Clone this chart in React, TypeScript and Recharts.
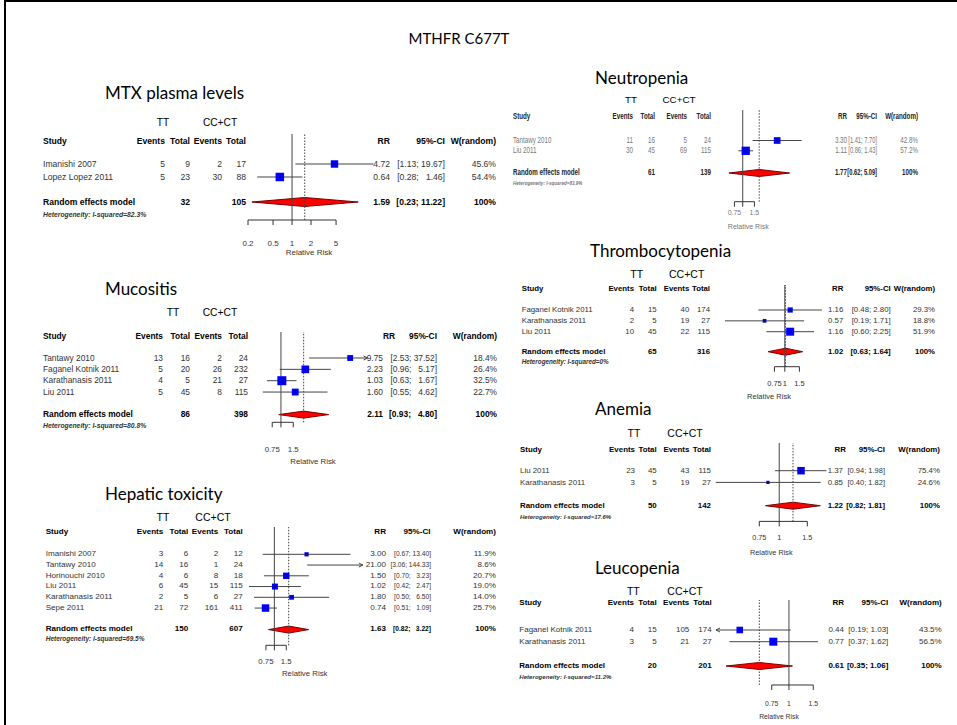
import React from 'react';
import { ComposedChart, XAxis, YAxis, ReferenceLine, Scatter, Area } from 'recharts';

const FONT = '"Liberation Sans", Arial, Helvetica, sans-serif';
const TITLE_FONT = 'Lato, "Open Sans", sans-serif';

// MTX plasma levels
const mtxStudies = ['Imanishi 2007', 'Lopez Lopez 2011'];
const mtxCounts = [[5, 9, 2, 17], [5, 23, 30, 88]];
const mtxRR = [4.72, 0.64];
const mtxCI = [[1.13, 19.67], [0.28, 1.46]];
const mtxWeight = [45.6, 54.4];
const mtxPooled = [1.59, 0.23, 11.22];
const mtxTotals = [32, 105];
const mtxI2 = '82.3%';
const mtxTicks = [0.2, 0.5, 1, 2, 5];
const mtxTickLabels = ['0.2', '0.5', '1', '2', '5'];

// Mucositis
const mucStudies = ['Tantawy 2010', 'Faganel Kotnik 2011', 'Karathanasis 2011', 'Liu 2011'];
const mucCounts = [[13, 16, 2, 24], [5, 20, 26, 232], [4, 5, 21, 27], [5, 45, 8, 115]];
const mucRR = [9.75, 2.23, 1.03, 1.6];
const mucCI = [[2.53, 37.52], [0.96, 5.17], [0.63, 1.67], [0.55, 4.62]];
const mucWeight = [18.4, 26.4, 32.5, 22.7];
const mucPooled = [2.11, 0.93, 4.8];
const mucTotals = [86, 398];
const mucI2 = '80.8%';
const mucTicks = [0.75, 1, 1.5];
const mucTickLabels = ['0.75', '', '1.5'];

// Hepatic toxicity
const hepStudies = ['Imanishi 2007', 'Tantawy 2010', 'Horinouchi 2010', 'Liu 2011', 'Karathanasis 2011', 'Sepe 2011'];
const hepCounts = [[3, 6, 2, 12], [14, 16, 1, 24], [4, 6, 8, 18], [6, 45, 15, 115], [2, 5, 6, 27], [21, 72, 161, 411]];
const hepRR = [3.0, 21.0, 1.5, 1.02, 1.8, 0.74];
const hepCI = [[0.67, 13.4], [3.06, 144.33], [0.7, 3.23], [0.42, 2.47], [0.5, 6.5], [0.51, 1.09]];
const hepWeight = [11.9, 8.6, 20.7, 19.0, 14.0, 25.7];
const hepPooled = [1.63, 0.82, 3.22];
const hepTotals = [150, 607];
const hepI2 = '69.5%';
const hepTicks = [0.75, 1, 1.5];
const hepTickLabels = ['0.75', '', '1.5'];

// Neutropenia
const neuStudies = ['Tantawy 2010', 'Liu 2011'];
const neuCounts = [[11, 16, 5, 24], [30, 45, 69, 115]];
const neuRR = [3.3, 1.11];
const neuCI = [[1.41, 7.7], [0.86, 1.43]];
const neuWeight = [42.8, 57.2];
const neuPooled = [1.77, 0.62, 5.09];
const neuTotals = [61, 139];
const neuI2 = '83.9%';
const neuTicks = [0.75, 1, 1.5];
const neuTickLabels = ['0.75', '', '1.5'];

// Thrombocytopenia
const thrStudies = ['Faganel Kotnik 2011', 'Karathanasis 2011', 'Liu 2011'];
const thrCounts = [[4, 15, 40, 174], [2, 5, 19, 27], [10, 45, 22, 115]];
const thrRR = [1.16, 0.57, 1.16];
const thrCI = [[0.48, 2.8], [0.19, 1.71], [0.6, 2.25]];
const thrWeight = [29.3, 18.8, 51.9];
const thrPooled = [1.02, 0.63, 1.64];
const thrTotals = [65, 316];
const thrI2 = '0%';
const thrTicks = [0.75, 1, 1.5];
const thrTickLabels = ['0.75', '1', '1.5'];

// Anemia
const aneStudies = ['Liu 2011', 'Karathanasis 2011'];
const aneCounts = [[23, 45, 43, 115], [3, 5, 19, 27]];
const aneRR = [1.37, 0.85];
const aneCI = [[0.94, 1.98], [0.4, 1.82]];
const aneWeight = [75.4, 24.6];
const anePooled = [1.22, 0.82, 1.81];
const aneTotals = [50, 142];
const aneI2 = '17.6%';
const aneTicks = [0.75, 1, 1.5];
const aneTickLabels = ['0.75', '1', '1.5'];

// Leucopenia
const leuStudies = ['Faganel Kotnik 2011', 'Karathanasis 2011'];
const leuCounts = [[4, 15, 105, 174], [3, 5, 21, 27]];
const leuRR = [0.44, 0.77];
const leuCI = [[0.19, 1.03], [0.37, 1.62]];
const leuWeight = [43.5, 56.5];
const leuPooled = [0.61, 0.35, 1.06];
const leuTotals = [20, 201];
const leuI2 = '11.2%';
const leuTicks = [0.75, 1, 1.5];
const leuTickLabels = ['0.75', '1', '1.5'];

type Lay = {
  title: string; titleX: number; titleY: number;
  ttY: number; ttX: number; ccX: number;
  headY: number; studyX: number; cols: number[];
  row0Y: number; rowH: number; randY: number; hetY: number;
  rrR: number; rrHeadR?: number; ciR: number; wR: number;
  one: number; k: number; dmin: number; dmax: number;
  vTop: number; axisY: number; tickY: number; xlabX: number; xlabY: number;
  sq: number; dh: number; color?: string; headColor?: string;
  fs: number; hfs: number; afs: number; tfs: number; sx?: number; ciSx?: number;
};

type PData = {
  studies: string[]; counts: number[][]; rr: number[]; ci: number[][]; weight: number[];
  pooled: number[]; totals: number[]; i2: string; ticks: number[]; tickLabels: string[];
};

function T({ x, y, children, a = 'start', b = false, i = false, s = 9, c = '#333', f = FONT, sx = 1 }: any) {
  const tx = a === 'end' ? '-100%' : a === 'middle' ? '-50%' : '0';
  const origin = a === 'end' ? '100% 50%' : a === 'middle' ? '50% 50%' : '0 50%';
  return (
    <span
      style={{
        position: 'absolute', left: x, top: y,
        transform: `translate(${tx}, -50%)${sx !== 1 ? ` scaleX(${sx})` : ''}`, transformOrigin: origin,
        fontFamily: f, fontSize: s, fontWeight: b ? 'bold' : 'normal', fontStyle: i ? 'italic' : 'normal',
        color: c, whiteSpace: 'pre', lineHeight: 1,
      }}
    >
      {children}
    </span>
  );
}

function CiLine(p: any) {
  const { x1, y1, x2, y2, arrowL, arrowR } = p;
  const l = Math.min(x1, x2), r = Math.max(x1, x2);
  const a = 4;
  return (
    <g>
      <line x1={l} y1={y1} x2={r} y2={y2} stroke="#444" strokeWidth={1} />
      {arrowR && <path d={`M${r - a},${y2 - a / 2} L${r},${y2} L${r - a},${y2 + a / 2}`} fill="none" stroke="#444" />}
      {arrowL && <path d={`M${l + a},${y1 - a / 2} L${l},${y1} L${l + a},${y1 + a / 2}`} fill="none" stroke="#444" />}
    </g>
  );
}

function Sq(p: any) {
  const { cx, cy, side } = p;
  return (
    <g>
      <rect x={cx - side / 2} y={cy - side / 2} width={side} height={side} fill="#0000ff" />
      <rect x={cx - 0.75} y={cy - 0.75} width={1.5} height={1.5} fill="#111" />
    </g>
  );
}

const fmtCI = (lo: number, hi: number, w: number) => {
  const h = hi.toFixed(2);
  const pad = Math.max(0, w - h.length);
  return `[${lo.toFixed(2)}; ${'  '.repeat(pad)}${h}]`;
};

function Panel({ L, d }: { L: Lay; d: PData }) {
  const col = L.color ?? '#333';
  const head = L.headColor ?? '#000';
  const sx = L.sx ?? 1;
  const ciSx = L.ciSx ?? sx;
  const M = 14;
  const px = (v: number) => L.one + L.k * Math.log10(v);
  const x0 = px(L.dmin), x1 = px(L.dmax);
  const plotH = L.axisY - L.vTop;
  const axisH = 45;
  const tickSize = 5;
  const tickMargin = L.tickY - L.axisY - tickSize - 0.36 * L.afs;
  const rowY = (i: number) => L.row0Y - L.vTop + i * L.rowH;
  const yR = L.randY - L.vTop;
  const clampX = (v: number) => Math.min(Math.max(v, L.dmin), L.dmax);
  const maxW = Math.max(...d.weight);
  const points = d.rr
    .map((v, i) => ({ x: v, y: rowY(i), w: d.weight[i] }))
    .filter((p) => p.x >= L.dmin && p.x <= L.dmax);
  const diamond = [
    { x: d.pooled[1], band: [yR, yR] },
    { x: d.pooled[0], band: [yR - L.dh, yR + L.dh] },
    { x: d.pooled[2], band: [yR, yR] },
  ];
  const hiW = Math.min(5, Math.max(...d.ci.map((c) => c[1].toFixed(2).length)));
  const s = L.fs;

  return (
    <>
      <T x={L.titleX} y={L.titleY} s={17} c="#000" f={TITLE_FONT}>{L.title}</T>
      <T x={L.ttX} y={L.ttY} a="middle" s={L.tfs} c="#000">TT</T>
      <T x={L.ccX} y={L.ttY} a="middle" s={L.tfs} c="#000">CC+CT</T>
      <T x={L.studyX} y={L.headY} b s={s} sx={sx} c={head}>Study</T>
      {['Events', 'Total', 'Events', 'Total'].map((h, j) => (
        <T key={j} x={L.cols[j]} y={L.headY} a="end" b s={s} sx={sx} c={head}>{h}</T>
      ))}
      <T x={L.rrHeadR ?? L.rrR} y={L.headY} a="end" b s={s} sx={sx} c={head}>RR</T>
      <T x={L.ciR} y={L.headY} a="end" b s={s} sx={sx} c={head}>95%-CI</T>
      <T x={L.wR} y={L.headY} a="end" b s={s} sx={sx} c={head}>W(random)</T>
      {d.studies.map((name, i) => {
        const y = L.row0Y + i * L.rowH;
        return (
          <React.Fragment key={name}>
            <T x={L.studyX} y={y} s={s} sx={sx} c={col}>{name}</T>
            {d.counts[i].map((n, j) => (
              <T key={j} x={L.cols[j]} y={y} a="end" s={s} sx={sx} c={col}>{n}</T>
            ))}
            <T x={L.rrR} y={y} a="end" s={s} sx={sx} c={col}>{d.rr[i].toFixed(2)}</T>
            <T x={L.ciR} y={y} a="end" s={s} sx={ciSx} c={col}>{fmtCI(d.ci[i][0], d.ci[i][1], hiW)}</T>
            <T x={L.wR} y={y} a="end" s={s} sx={sx} c={col}>{d.weight[i].toFixed(1) + '%'}</T>
          </React.Fragment>
        );
      })}
      <T x={L.studyX} y={L.randY} b s={s} sx={sx} c={head}>Random effects model</T>
      <T x={L.cols[1]} y={L.randY} a="end" b s={s} sx={sx} c={head}>{d.totals[0]}</T>
      <T x={L.cols[3]} y={L.randY} a="end" b s={s} sx={sx} c={head}>{d.totals[1]}</T>
      <T x={L.rrR} y={L.randY} a="end" b s={s} sx={sx} c={head}>{d.pooled[0].toFixed(2)}</T>
      <T x={L.ciR} y={L.randY} a="end" b s={s} sx={ciSx} c={head}>{fmtCI(d.pooled[1], d.pooled[2], hiW)}</T>
      <T x={L.wR} y={L.randY} a="end" b s={s} sx={sx} c={head}>100%</T>
      <T x={L.studyX} y={L.hetY} b i s={L.hfs} sx={sx} c={col}>{'Heterogeneity: I-squared=' + d.i2}</T>
      <T x={L.xlabX} y={L.xlabY} a="middle" s={L.afs} c={col}>Relative Risk</T>

      <div style={{ position: 'absolute', left: x0 - M, top: L.vTop }}>
        <ComposedChart width={x1 - x0 + 2 * M} height={plotH + axisH} margin={{ top: 0, right: M, bottom: 0, left: M }}>
          <XAxis
            type="number"
            dataKey="x"
            scale="log"
            domain={[L.dmin, L.dmax]}
            allowDataOverflow
            ticks={d.ticks}
            interval={0}
            tickFormatter={(v: number) => d.tickLabels[d.ticks.indexOf(v)] ?? ''}
            height={axisH}
            axisLine={false}
            tickLine={{ stroke: '#333' }}
            tickSize={tickSize}
            tickMargin={tickMargin}
            tick={{ fontSize: L.afs, fill: col, fontFamily: FONT }}
          />
          <YAxis type="number" dataKey="y" domain={[0, plotH]} reversed hide allowDataOverflow />
          <ReferenceLine x={1} stroke="#444" ifOverflow="visible" />
          <ReferenceLine x={d.pooled[0]} stroke="#444" strokeDasharray="1.5 1.5" ifOverflow="visible" />
          <ReferenceLine
            segment={[{ x: d.ticks[0], y: plotH }, { x: d.ticks[d.ticks.length - 1], y: plotH }]}
            stroke="#333"
            ifOverflow="visible"
          />
          {d.ci.map(([lo, hi], i) => (
            <ReferenceLine
              key={i}
              segment={[{ x: clampX(lo), y: rowY(i) }, { x: clampX(hi), y: rowY(i) }]}
              ifOverflow="visible"
              shape={(p: any) => <CiLine {...p} arrowL={lo < L.dmin} arrowR={hi > L.dmax} />}
            />
          ))}
          <Area
            data={diamond}
            dataKey="band"
            type="linear"
            fill="#ff0000"
            fillOpacity={1}
            stroke="#7a0000"
            strokeWidth={1}
            isAnimationActive={false}
            dot={false}
            activeDot={false}
          />
          <Scatter
            data={points}
            isAnimationActive={false}
            shape={(p: any) => <Sq {...p} side={L.sq * Math.pow(p.payload.w / maxW, 0.75)} />}
          />
        </ComposedChart>
      </div>
    </>
  );
}

const mtxLay: Lay = { title: 'MTX plasma levels', titleX: 105, titleY: 92, ttY: 123, ttX: 163, ccX: 220, headY: 141, studyX: 43, cols: [165, 190, 222, 246], row0Y: 164, rowH: 13, randY: 202, hetY: 215, rrR: 390, ciR: 445, wR: 496, one: 292, k: 63, dmin: 0.2, dmax: 20, vTop: 134, axisY: 220, tickY: 243, xlabX: 309, xlabY: 253, sq: 8.5, dh: 4.5, fs: 8.6, hfs: 6.8, afs: 8, tfs: 10.2 };
const mucLay: Lay = { title: 'Mucositis', titleX: 105, titleY: 288, ttY: 313, ttX: 173, ccX: 220, headY: 336, studyX: 43, cols: [163, 190, 222, 248], row0Y: 357.7, rowH: 11.35, randY: 414.3, hetY: 425.7, rrR: 383, rrHeadR: 395, ciR: 437, wR: 497, one: 281, k: 70, dmin: 0.47, dmax: 17.3, vTop: 331.7, axisY: 422, tickY: 449, xlabX: 313, xlabY: 461.7, sq: 9, dh: 3.5, fs: 8.4, hfs: 6.8, afs: 7.8, tfs: 10.3 };
const hepLay: Lay = { title: 'Hepatic toxicity', titleX: 105, titleY: 493, ttY: 517, ttX: 163, ccX: 213, headY: 532.3, studyX: 45.7, cols: [163.3, 188.3, 218.3, 242.7], row0Y: 554, rowH: 10.75, randY: 629.3, hetY: 639, rrR: 386, ciR: 430.5, wR: 496, one: 274.1, k: 67.5, dmin: 0.38, dmax: 20.5, vTop: 526.7, axisY: 645, tickY: 661, xlabX: 304.7, xlabY: 674.3, sq: 7.5, dh: 3.5, fs: 8.1, hfs: 6.5, afs: 7.8, tfs: 10.5, ciSx: 0.82 };
const neuLay: Lay = { title: 'Neutropenia', titleX: 595, titleY: 76.7, ttY: 99.5, ttX: 631, ccX: 679, headY: 116.5, studyX: 513.3, cols: [633.3, 655, 687.3, 710.7], row0Y: 140.5, rowH: 10.3, randY: 173, hetY: 183, rrR: 847, ciR: 877, wR: 918.3, one: 742.3, k: 66.4, dmin: 0.6, dmax: 8, vTop: 110, axisY: 201.7, tickY: 212.7, xlabX: 748.3, xlabY: 225.7, sq: 8.3, dh: 3.5, color: '#777', headColor: '#222', fs: 8.2, hfs: 6, afs: 7, tfs: 9.8, sx: 0.76, ciSx: 0.7 };
const thrLay: Lay = { title: 'Thrombocytopenia', titleX: 590, titleY: 250, ttY: 274.3, ttX: 636.7, ccX: 686.7, headY: 289.3, studyX: 521.7, cols: [634, 656.7, 689.3, 710], row0Y: 310, rowH: 10.85, randY: 351.7, hetY: 361.7, rrR: 843.3, ciR: 890.7, wR: 935, one: 784.7, k: 83, dmin: 0.18, dmax: 3, vTop: 285, axisY: 366.7, tickY: 383.3, xlabX: 769, xlabY: 396.7, sq: 8, dh: 3.5, fs: 7.8, hfs: 6.3, afs: 7.5, tfs: 10.5 };
const aneLay: Lay = { title: 'Anemia', titleX: 595, titleY: 408.3, ttY: 433.3, ttX: 634, ccX: 685, headY: 450, studyX: 520, cols: [635, 656.7, 689.3, 711], row0Y: 471, rowH: 11.7, randY: 506, hetY: 516.7, rrR: 843, rrHeadR: 846, ciR: 885, wR: 940, one: 779.2, k: 159.5, dmin: 0.39, dmax: 2.1, vTop: 443.3, axisY: 521.7, tickY: 537.3, xlabX: 771.3, xlabY: 552.7, sq: 7.5, dh: 3.5, fs: 7.9, hfs: 6, afs: 7.3, tfs: 10.5, ciSx: 0.95 };
const leuLay: Lay = { title: 'Leucopenia', titleX: 595, titleY: 567.3, ttY: 590.7, ttX: 633.3, ccX: 685, headY: 603.3, studyX: 519.3, cols: [634, 656.7, 689.3, 711.7], row0Y: 630, rowH: 11.7, randY: 666, hetY: 676.7, rrR: 844, ciR: 888.3, wR: 941.7, one: 789, k: 138, dmin: 0.296, dmax: 1.7, vTop: 600, axisY: 685, tickY: 704, xlabX: 779, xlabY: 716.7, sq: 8, dh: 3.5, fs: 8, hfs: 6.1, afs: 6.8, tfs: 10.5 };

const panels: { L: Lay; d: PData }[] = [
  { L: mtxLay, d: { studies: mtxStudies, counts: mtxCounts, rr: mtxRR, ci: mtxCI, weight: mtxWeight, pooled: mtxPooled, totals: mtxTotals, i2: mtxI2, ticks: mtxTicks, tickLabels: mtxTickLabels } },
  { L: mucLay, d: { studies: mucStudies, counts: mucCounts, rr: mucRR, ci: mucCI, weight: mucWeight, pooled: mucPooled, totals: mucTotals, i2: mucI2, ticks: mucTicks, tickLabels: mucTickLabels } },
  { L: hepLay, d: { studies: hepStudies, counts: hepCounts, rr: hepRR, ci: hepCI, weight: hepWeight, pooled: hepPooled, totals: hepTotals, i2: hepI2, ticks: hepTicks, tickLabels: hepTickLabels } },
  { L: neuLay, d: { studies: neuStudies, counts: neuCounts, rr: neuRR, ci: neuCI, weight: neuWeight, pooled: neuPooled, totals: neuTotals, i2: neuI2, ticks: neuTicks, tickLabels: neuTickLabels } },
  { L: thrLay, d: { studies: thrStudies, counts: thrCounts, rr: thrRR, ci: thrCI, weight: thrWeight, pooled: thrPooled, totals: thrTotals, i2: thrI2, ticks: thrTicks, tickLabels: thrTickLabels } },
  { L: aneLay, d: { studies: aneStudies, counts: aneCounts, rr: aneRR, ci: aneCI, weight: aneWeight, pooled: anePooled, totals: aneTotals, i2: aneI2, ticks: aneTicks, tickLabels: aneTickLabels } },
  { L: leuLay, d: { studies: leuStudies, counts: leuCounts, rr: leuRR, ci: leuCI, weight: leuWeight, pooled: leuPooled, totals: leuTotals, i2: leuI2, ticks: leuTicks, tickLabels: leuTickLabels } },
];

export default function App() {
  return (
    <div style={{ position: 'absolute', left: 0, top: 0, width: 957, height: 725, background: '#fff', overflow: 'hidden' }}>
      <div style={{ position: 'absolute', left: 4, top: 0, width: 2, height: 725, background: '#000' }} />
      <div style={{ position: 'absolute', left: 4, top: 0, width: 953, height: 2, background: '#000' }} />
      <T x={459} y={38} a="middle" s={15} c="#000" f={TITLE_FONT}>MTHFR C677T</T>
      {panels.map((p) => (
        <Panel key={p.L.title} L={p.L} d={p.d} />
      ))}
    </div>
  );
}
